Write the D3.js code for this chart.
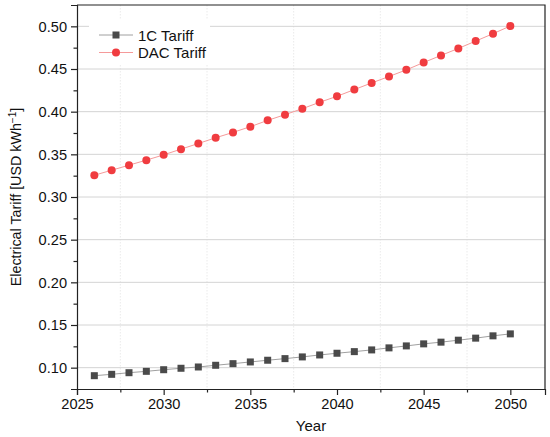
<!DOCTYPE html>
<html>
<head>
<meta charset="utf-8">
<script src="https://cdn.jsdelivr.net/npm/d3@7"></script>
<style>
  body { margin: 0; background: #fff; }
  svg { display: block; font-family: "Liberation Sans", Arial, sans-serif; }
  .grid line { stroke: #d4d4d4; stroke-width: 1; }
  .vgrid line { stroke: #e4e4e4; stroke-width: 0.8; stroke-dasharray: 1.5 1.5; }
  .axis path, .axis line { stroke: #222; stroke-width: 1.2; }
  .axis text { fill: #111; font-size: 14.6px; }
</style>
</head>
<body>
<svg width="550" height="437"></svg>
<script>
// data
const years = d3.range(2026, 2051);
const tariff1C = [0.0906, 0.0922, 0.0941, 0.0957, 0.0976, 0.0993, 0.1008, 0.1028, 0.1047, 0.1067,
                  0.1087, 0.1106, 0.1126, 0.1149, 0.1169, 0.1188, 0.1208, 0.1232, 0.1255, 0.1279,
                  0.1299, 0.1322, 0.1346, 0.1373, 0.1396];
const tariffDAC = [0.3255, 0.3314, 0.3373, 0.3432, 0.3494, 0.3561, 0.3627, 0.3694, 0.3757, 0.3824,
                   0.3898, 0.3965, 0.4035, 0.4110, 0.4180, 0.4259, 0.4337, 0.4412, 0.4490, 0.4576,
                   0.4659, 0.4741, 0.4827, 0.4914, 0.5004];
const xTicks = [2025, 2030, 2035, 2040, 2045, 2050];
const xMinor = [2027.5, 2032.5, 2037.5, 2042.5, 2047.5];
const yTicks = [0.10, 0.15, 0.20, 0.25, 0.30, 0.35, 0.40, 0.45, 0.50];
const yMinor = [0.125, 0.175, 0.225, 0.275, 0.325, 0.375, 0.425, 0.475];
const seriesNames = ["1C Tariff", "DAC Tariff"];

const svg = d3.select("svg");
const margin = { left: 77, top: 5, right: 5, bottom: 48 };
const W = 550, H = 437;
const x = d3.scaleLinear().domain([2025, 2052]).range([margin.left, W - margin.right]);
const y = d3.scaleLinear().domain([0.075, 0.525]).range([H - margin.bottom, margin.top]);

// grid lines
svg.append("g").attr("class", "vgrid")
    .selectAll("line").data(xMinor).enter().append("line")
    .attr("x1", d => x(d)).attr("x2", d => x(d))
    .attr("y1", y.range()[1]).attr("y2", y.range()[0]);
svg.append("g").attr("class", "grid")
    .selectAll("line").data(yTicks).enter().append("line")
    .attr("x1", x.range()[0]).attr("x2", x.range()[1])
    .attr("y1", d => y(d)).attr("y2", d => y(d));

// frame top/right
svg.append("path")
    .attr("d", `M${x.range()[0]},${y.range()[1]}H${x.range()[1]}V${y.range()[0]}`)
    .attr("fill", "none").attr("stroke", "#222").attr("stroke-width", 1.2);

// axes
svg.append("g").attr("class", "axis")
    .attr("transform", `translate(0,${y.range()[0]})`)
    .call(d3.axisBottom(x).tickValues(xTicks).tickFormat(d3.format("d")).tickSizeOuter(0).tickSize(6).tickPadding(4));
svg.append("g").attr("class", "axis")
    .attr("transform", `translate(0,${y.range()[0]})`)
    .call(d3.axisBottom(x).tickValues(xMinor).tickFormat("").tickSizeOuter(0).tickSize(3.5))
    .select(".domain").remove();
svg.append("g").attr("class", "axis")
    .attr("transform", `translate(${x.range()[0]},0)`)
    .call(d3.axisLeft(y).tickValues(yTicks).tickFormat(d3.format(".2f")).tickSizeOuter(0).tickSize(6).tickPadding(4));
svg.append("g").attr("class", "axis")
    .attr("transform", `translate(${x.range()[0]},0)`)
    .call(d3.axisLeft(y).tickValues(yMinor).tickFormat("").tickSizeOuter(0).tickSize(3.5))
    .select(".domain").remove();

// axis titles
svg.append("text")
    .attr("x", (x.range()[0] + x.range()[1]) / 2).attr("y", 431)
    .attr("text-anchor", "middle").attr("font-size", 15).attr("fill", "#111")
    .text("Year");
const yl = svg.append("text")
    .attr("transform", `translate(21,${(y.range()[0] + y.range()[1]) / 2}) rotate(-90)`)
    .attr("text-anchor", "middle").attr("font-size", 14.3).attr("fill", "#111");
yl.append("tspan").text("Electrical Tariff [USD kWh");
yl.append("tspan").attr("dy", -5).attr("font-size", 10).text("\u22121");
yl.append("tspan").attr("dy", 5).text("]");

// series
const line = d3.line().x((d, i) => x(years[i])).y(d => y(d));
svg.append("path").datum(tariff1C).attr("d", line)
    .attr("fill", "none").attr("stroke", "#a0a0a0").attr("stroke-width", 1);
svg.append("path").datum(tariffDAC).attr("d", line)
    .attr("fill", "none").attr("stroke", "#f59a9a").attr("stroke-width", 1);

const sq = 7;
svg.append("g").selectAll("rect").data(tariff1C).enter().append("rect")
    .attr("x", (d, i) => x(years[i]) - sq / 2).attr("y", d => y(d) - sq / 2)
    .attr("width", sq).attr("height", sq).attr("fill", "#4a4a4a");
svg.append("g").selectAll("circle").data(tariffDAC).enter().append("circle")
    .attr("cx", (d, i) => x(years[i])).attr("cy", d => y(d))
    .attr("r", 4).attr("fill", "#f03c40");

// legend
const lg = svg.append("g");
lg.append("rect").attr("x", 89).attr("y", 20).attr("width", 121).attr("height", 45).attr("fill", "#fff");
const rows = [
  { name: seriesNames[0], stroke: "#a0a0a0", fill: "#4a4a4a", shape: "square", yy: 35 },
  { name: seriesNames[1], stroke: "#f59a9a", fill: "#f03c40", shape: "circle", yy: 52.5 }
];
rows.forEach(r => {
  lg.append("line").attr("x1", 99).attr("x2", 133).attr("y1", r.yy).attr("y2", r.yy)
    .attr("stroke", r.stroke).attr("stroke-width", 1);
  if (r.shape === "square") {
    lg.append("rect").attr("x", 116 - sq / 2).attr("y", r.yy - sq / 2).attr("width", sq).attr("height", sq).attr("fill", r.fill);
  } else {
    lg.append("circle").attr("cx", 116).attr("cy", r.yy).attr("r", 4).attr("fill", r.fill);
  }
  lg.append("text").attr("x", 138).attr("y", r.yy + 5.5).attr("font-size", 15).attr("fill", "#111").text(r.name);
});
</script>
</body>
</html>
